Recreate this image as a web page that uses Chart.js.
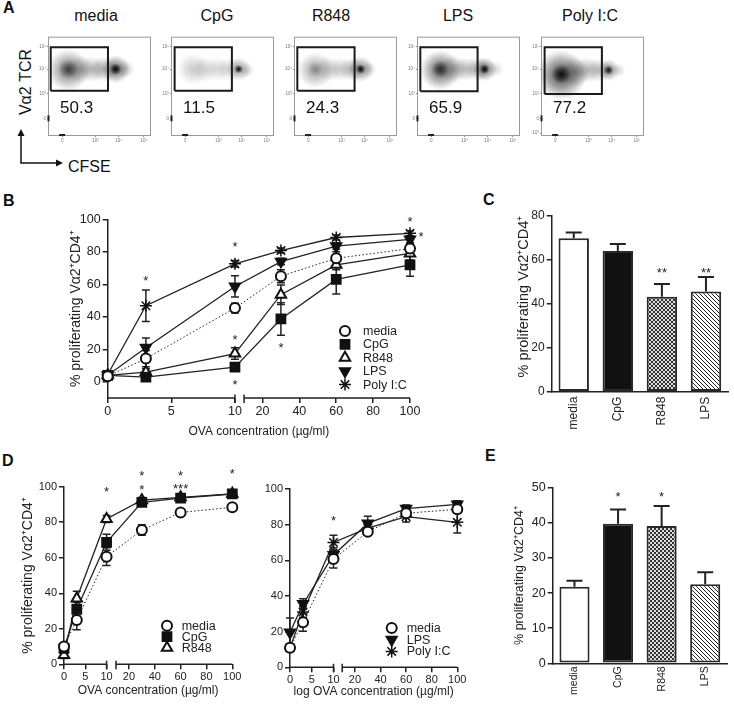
<!DOCTYPE html>
<html>
<head>
<meta charset="utf-8">
<script src="https://cdn.jsdelivr.net/npm/chart.js@4.4.1/dist/chart.umd.min.js"></script>
<style>
  body { margin: 0; background: #fff; }
  #fig { position: relative; width: 734px; height: 706px; overflow: hidden;
         font-family: Arial, "Liberation Sans", sans-serif; color: #111; }
  #fig canvas { position: absolute; }
  .lab { position: absolute; font-weight: bold; font-size: 16px; line-height: 1; }
  .ttl { position: absolute; font-size: 16px; line-height: 1; white-space: nowrap; transform: translateX(-50%); }
</style>
</head>
<body>
<div id="fig">
  <div class="lab" style="left:3px;top:0px">A</div>
  <div class="lab" style="left:3px;top:193px">B</div>
  <div class="lab" style="left:483px;top:192px">C</div>
  <div class="lab" style="left:2px;top:453px">D</div>
  <div class="lab" style="left:485px;top:448px">E</div>

  <div class="ttl" style="left:96px;top:8px">media</div>
  <div class="ttl" style="left:217px;top:8px">CpG</div>
  <div class="ttl" style="left:331px;top:8px">R848</div>
  <div class="ttl" style="left:458px;top:8px">LPS</div>
  <div class="ttl" style="left:590px;top:8px">Poly I:C</div>

  <div class="ttl" style="left:25.5px;top:74px;transform:translateX(-50%) rotate(-90deg)">V&alpha;2 TCR</div>
  <div class="ttl" style="left:68px;top:159px;transform:none">CFSE</div>
  <svg style="position:absolute;left:0;top:120px" width="70" height="50">
    <line x1="21" y1="43" x2="21" y2="15" stroke="#111" stroke-width="1.5"/>
    <polygon points="21,9 17.5,16 24.5,16" fill="#111"/>
    <line x1="20.25" y1="43" x2="57" y2="43" stroke="#111" stroke-width="1.5"/>
    <polygon points="63,43 56,39.5 56,46.5" fill="#111"/>
  </svg>

  <canvas id="flow0" width="119" height="114" style="left:33.3px;top:33px"></canvas>
  <canvas id="flow1" width="119" height="114" style="left:155.7px;top:33px"></canvas>
  <canvas id="flow2" width="119" height="114" style="left:279px;top:33px"></canvas>
  <canvas id="flow3" width="119" height="114" style="left:401.7px;top:33px"></canvas>
  <canvas id="flow4" width="119" height="114" style="left:525.7px;top:33px"></canvas>

  <canvas id="chartB" width="362" height="234" style="left:68px;top:205px"></canvas>
  <canvas id="chartC" width="219" height="227" style="left:515px;top:205px"></canvas>
  <canvas id="chartD1" width="225" height="243" style="left:20px;top:455px"></canvas>
  <canvas id="chartD2" width="215" height="244" style="left:255px;top:455px"></canvas>
  <canvas id="chartE" width="222" height="230" style="left:512px;top:470px"></canvas>
</div>

<script>
const FONT = 'Arial, "Liberation Sans", sans-serif';
Chart.defaults.font.family = FONT;
Chart.defaults.color = '#222';
Chart.defaults.animation = false;
Chart.defaults.layout.autoPadding = false;
Chart.defaults.plugins.legend.display = false;
Chart.defaults.plugins.tooltip.enabled = false;

// ---- data ----
const flowSamples = ['media', 'CpG', 'R848', 'LPS', 'Poly I:C'];
const flowPercent = [50.3, 11.5, 24.3, 65.9, 77.2];
const flowGateX = [[1.7, 58.4], [2.6, 59.3], [2.3, 59], [2.3, 59], [2.6, 59.3]];
const flowGateY = [[45, 89.3], [45, 89.3], [45, 89.3], [44.5, 89.3], [41.7, 89.3]];
const flowXTicks = [13, 46, 69, 94];
const flowYTicks = [17, 42, 67, 90];
const flowTickLabels = ['0', '10\u00b3', '10\u2074', '10\u2075'];
// density blobs: [x, y, radius px, darkness]
const flowBlobs = [
  [[19, 66, 21, 0.5], [19, 67, 10, 0.5], [31, 67, 14, 0.28], [43, 67, 13, 0.26], [54, 67, 13, 0.28], [66, 67, 14, 0.6], [66, 67, 6, 0.95], [76, 67, 9, 0.2]],
  [[21, 67, 16, 0.2], [33, 67, 13, 0.15], [45, 67, 12, 0.15], [56, 67, 12, 0.15], [66, 67, 12, 0.35], [66, 67, 4.5, 0.95], [74, 66, 8, 0.15]],
  [[20, 66, 18, 0.35], [20, 67, 8, 0.2], [33, 67, 13, 0.2], [45, 67, 12, 0.2], [56, 67, 12, 0.25], [65, 67, 13, 0.45], [65, 67, 5, 0.95], [73, 67, 8, 0.15]],
  [[22, 66, 20, 0.6], [22, 67, 9, 0.6], [35, 67, 14, 0.3], [47, 67, 12, 0.25], [58, 67, 12, 0.25], [66, 67, 12, 0.55], [66, 67, 5, 0.95], [77, 67, 8, 0.15]],
  [[19, 61, 25, 0.7], [19, 62, 10, 0.8], [33, 64, 15, 0.35], [45, 66, 13, 0.25], [56, 66, 12, 0.25], [66, 66, 11, 0.45], [66, 66, 5, 0.85], [76, 66, 7, 0.15]]
];

const doses = [0, 3, 10, 30, 60, 100];
const doseTicks = [0, 5, 10, 20, 40, 60, 80, 100];

const bMedia = [3.5, 14.3, 45.4, 65, 76, 82];
const bMediaErr = [1.5, 5, 3, 4, 4, 3];
const bCpG = [4, 2.9, 9, 38.7, 63, 72];
const bCpGErr = [1, 1, 1.5, 10, 9, 7];
const bR848 = [4, 6, 17.4, 53.6, 72, 79];
const bR848Err = [1, 2, 3.5, 6, 3, 4];
const bLPS = [4, 21, 58.7, 74, 83.5, 87.6];
const bLPSErr = [1, 6, 6.5, 2, 2, 2];
const bPoly = [4.5, 46.8, 72.6, 80.8, 88.8, 91.4];
const bPolyErr = [1, 9.7, 2, 1.5, 1.5, 1.5];
const bStars = [[3, 64.4, '*'], [10, 84.9, '*'], [10, 27.6, '*'], [10, 0.4, '*'], [30, 22.9, '*'], [100, 100.6, '*'], [106, 91.4, '*']];

const dMedia = [10, 25, 60.6, 75.6, 85.5, 88.4];
const dMediaErr = [2, 5.5, 5, 3, 1.5, 1.5];
const dCpG = [9, 31, 68.7, 91.2, 93.6, 95.9];
const dCpGErr = [3, 4, 4.5, 2, 1.5, 1.5];
const dR848 = [5.3, 37.1, 81.8, 92.4, 94, 96];
const dR848Err = [2, 4, 2, 1.5, 1.5, 1.5];
const dStars = [[10, 99, '*'], [30, 107.9, '*'], [30, 100, '*'], [60, 107.9, '*'], [60, 100.9, '***'], [100, 109, '*']];

const drMedia = [11, 25.2, 60.7, 76, 86.4, 88.6];
const drMediaErr = [2, 5, 5, 2, 2, 2];
const drLPS = [19.6, 35.5, 63, 80.7, 89, 91.4];
const drLPSErr = [8, 3, 4, 4, 2, 2];
const drPoly = [11, 31, 70, 78, 84.5, 81.3];
const drPolyErr = [2, 3, 4, 3, 3, 6];
const drStars = [[10, 84, '*']];

const barCats = ['media', 'CpG', 'R848', 'LPS'];
const cMeans = [69.7, 63.9, 43.2, 45.5];
const cErr = [2.7, 3.2, 5.7, 6.6];
const cStars = [[2, 55.3, '**'], [3, 55.3, '**']];
const eMeans = [21.8, 39.7, 39.1, 22.5];
const eErr = [1.7, 4.1, 5.7, 3.4];
const eStars = [[1, 48.2, '*'], [2, 48.2, '*']];

const yTitle = '% proliferating V\u03b12\u207aCD4\u207a';

// ---- broken x axis (Prism style 0-10 | 10-100) ----
class BrokenScale extends Chart.LinearScale {
  static id = 'broken';
  static defaults = Chart.LinearScale.defaults;
  buildTicks() {
    return this.options.tickValues.map(v => ({ value: v }));
  }
  toDecimal(v) {
    const o = this.options;
    if (v <= o.breakAt) return (v - this.min) / (o.breakAt - this.min) * o.leftFrac;
    const start = o.leftFrac + o.gapFrac;
    return start + (v - o.breakAt) / (this.max - o.breakAt) * (1 - start);
  }
  getPixelForValue(v) {
    return this.getPixelForDecimal(this.toDecimal(v));
  }
  getValueForPixel(p) {
    const o = this.options;
    const d = this.getDecimalForPixel(p);
    if (d <= o.leftFrac) return this.min + d / o.leftFrac * (o.breakAt - this.min);
    const start = o.leftFrac + o.gapFrac;
    return o.breakAt + (d - start) / (1 - start) * (this.max - o.breakAt);
  }
}
Chart.register(BrokenScale);

const brokenAxis = {
  id: 'brokenAxis',
  afterDraw(chart) {
    const s = chart.scales.x;
    if (!(s instanceof BrokenScale)) return;
    const o = s.options, ctx = chart.ctx, y = s.top;
    const p0 = s.getPixelForValue(s.min) - 0.75;
    const p1 = s.getPixelForValue(o.breakAt);
    const p2 = s.getPixelForDecimal(o.leftFrac + o.gapFrac);
    const p3 = s.getPixelForValue(s.max);
    ctx.save();
    ctx.strokeStyle = '#222';
    ctx.lineWidth = 1.5;
    ctx.beginPath();
    ctx.moveTo(p0, y); ctx.lineTo(p1, y);
    ctx.moveTo(p2, y); ctx.lineTo(p3, y);
    ctx.moveTo(p1, y - 3.5); ctx.lineTo(p1, y + 5);
    ctx.moveTo(p2, y - 3.5); ctx.lineTo(p2, y + 5);
    ctx.stroke();
    ctx.restore();
  }
};

function drawErrors(chart, upOnly) {
  const ctx = chart.ctx, ys = chart.scales.y;
  chart.data.datasets.forEach((ds, i) => {
    const errs = upOnly ? ds.errorsUp : ds.errors;
    if (!errs) return;
    const meta = chart.getDatasetMeta(i);
    const cap = upOnly ? 8 : 4;
    ctx.save();
    ctx.strokeStyle = '#222';
    ctx.lineWidth = upOnly ? 2 : 1.5;
    ctx.beginPath();
    meta.data.forEach((el, j) => {
      const v = upOnly ? ds.data[j] : ds.data[j].y;
      const top = ys.getPixelForValue(v + errs[j]);
      const bot = upOnly ? el.y : ys.getPixelForValue(v - errs[j]);
      ctx.moveTo(el.x, top); ctx.lineTo(el.x, bot);
      ctx.moveTo(el.x - cap, top); ctx.lineTo(el.x + cap, top);
      if (!upOnly) { ctx.moveTo(el.x - cap, bot); ctx.lineTo(el.x + cap, bot); }
    });
    ctx.stroke();
    ctx.restore();
  });
}

const errorBars = {
  id: 'errorBars',
  beforeDatasetsDraw(chart) { drawErrors(chart, false); },
  afterDatasetsDraw(chart) { drawErrors(chart, true); }
};

const sigMarks = {
  id: 'sigMarks',
  afterDatasetsDraw(chart, args, opts) {
    if (!opts.marks) return;
    const ctx = chart.ctx, xs = chart.scales.x, ys = chart.scales.y;
    ctx.save();
    ctx.font = opts.size + 'px ' + FONT;
    ctx.textAlign = 'center';
    ctx.textBaseline = 'alphabetic';
    ctx.fillStyle = '#222';
    opts.marks.forEach(m => {
      ctx.fillText(m[2], xs.getPixelForValue(m[0]), ys.getPixelForValue(m[1]) + opts.size * 0.57);
    });
    ctx.restore();
  }
};

function drawMarker(ctx, style, x, y, r, rot) {
  ctx.beginPath();
  if (style === 'circle') {
    ctx.arc(x, y, r, 0, Math.PI * 2);
  } else if (style === 'rect') {
    const h = r * Math.SQRT1_2;
    ctx.rect(x - h, y - h, 2 * h, 2 * h);
  } else if (style === 'triangle') {
    const s = rot ? -1 : 1;
    ctx.moveTo(x, y - s * r);
    ctx.lineTo(x + Math.sin(Math.PI * 2 / 3) * r, y + s * r / 2);
    ctx.lineTo(x - Math.sin(Math.PI * 2 / 3) * r, y + s * r / 2);
    ctx.closePath();
  } else {
    for (let k = 0; k < 4; k++) {
      const a = k * Math.PI / 4;
      ctx.moveTo(x - Math.cos(a) * r, y - Math.sin(a) * r);
      ctx.lineTo(x + Math.cos(a) * r, y + Math.sin(a) * r);
    }
  }
  if (style !== 'star') ctx.fill();
  ctx.stroke();
}

const insideLegend = {
  id: 'insideLegend',
  afterDatasetsDraw(chart, args, opts) {
    if (opts.x === undefined) return;
    const ctx = chart.ctx, area = chart.chartArea;
    ctx.save();
    ctx.font = opts.size + 'px ' + FONT;
    ctx.textBaseline = 'middle';
    chart.data.datasets.forEach((ds, i) => {
      const x = area.left + opts.x, y = area.top + opts.y + i * opts.row;
      ctx.fillStyle = ds.pointBackgroundColor;
      ctx.strokeStyle = ds.pointBorderColor;
      ctx.lineWidth = ds.pointBorderWidth;
      drawMarker(ctx, ds.pointStyle, x, y, ds.pointRadius, ds.pointRotation);
      ctx.fillStyle = '#222';
      ctx.fillText(ds.label, x + opts.gap, y + 0.5);
    });
    ctx.restore();
  }
};

const markers = {
  'media':    { style: 'circle',   r: 5,   fill: '#fff', dash: [1.5, 2.2], width: 1 },
  'CpG':      { style: 'rect',     r: 6.2, fill: '#111', dash: [], width: 1.3 },
  'R848':     { style: 'triangle', r: 6,   fill: '#fff', dash: [], width: 1.3 },
  'LPS':      { style: 'triangle', r: 5.8, fill: '#111', dash: [], width: 1.3, rot: 180 },
  'Poly I:C': { style: 'star',     r: 6,   fill: '#111', dash: [], width: 1.3 }
};

function lineSet(label, ys, errs) {
  const m = markers[label];
  return {
    label: label,
    data: doses.map((x, i) => ({ x: x, y: ys[i] })),
    errors: errs,
    borderColor: '#222',
    borderWidth: m.width,
    borderDash: m.dash,
    pointStyle: m.style,
    pointRadius: m.r,
    pointRotation: m.rot || 0,
    pointBackgroundColor: m.fill,
    pointBorderColor: '#111',
    pointBorderWidth: m.style === 'star' ? 1.5 : 2,
    tension: 0,
    clip: false
  };
}

function fixedTicks(values) {
  return s => { s.ticks = values.map(v => ({ value: v })); };
}

function doseChart(id, sets, o) {
  return new Chart(document.getElementById(id), {
    type: 'line',
    data: { datasets: sets },
    options: {
      responsive: false,
      layout: { padding: { top: o.padTop, right: o.padRight, left: 0, bottom: 0 } },
      scales: {
        x: {
          type: 'broken', min: 0, max: 100, breakAt: 10,
          leftFrac: o.leftFrac, gapFrac: o.gapFrac, tickValues: doseTicks,
          grid: { drawOnChartArea: false, tickLength: 5, color: '#222', lineWidth: 1.5 },
          border: { display: false },
          ticks: { autoSkip: false, maxRotation: 0, padding: 1, font: { size: o.tickSize }, callback: v => String(v) },
          title: { display: true, text: o.xTitle, padding: 0, font: { size: o.xTitleSize } },
          afterFit: s => { s.height = o.xHeight; }
        },
        y: {
          min: o.yMin, max: 100,
          afterBuildTicks: fixedTicks([0, 20, 40, 60, 80, 100]),
          grid: { drawOnChartArea: false, tickLength: 5, color: '#222', lineWidth: 1.5 },
          border: { color: '#222', width: 1.5 },
          ticks: { padding: 2, font: { size: o.tickSize } },
          title: { display: !!o.yTitle, text: o.yTitle, padding: 0, font: { size: o.yTitleSize } },
          afterFit: s => { s.width = o.yWidth; }
        }
      },
      plugins: {
        sigMarks: { marks: o.stars, size: 13 },
        insideLegend: o.legend
      }
    },
    plugins: [errorBars, sigMarks, insideLegend, brokenAxis]
  });
}

// ---- panel A: flow plots ----
const flowFrame = {
  id: 'flowFrame',
  beforeDatasetsDraw(chart) {
    const a = chart.chartArea, ctx = chart.ctx;
    ctx.save();
    ctx.strokeStyle = '#9a9a9a';
    ctx.lineWidth = 1;
    ctx.strokeRect(a.left - 0.5, a.top + 0.5, a.right - a.left + 1, a.bottom - a.top);
    // events piled on the axes
    ctx.fillStyle = '#222';
    const xs = chart.scales.x, ys = chart.scales.y;
    ctx.fillRect(a.left - 1.5, ys.getPixelForValue(20), 2, 6);
    ctx.fillRect(xs.getPixelForValue(10), a.bottom - 1, 6, 2);
    ctx.restore();
  },
  afterDatasetsDraw(chart, args, opts) {
    const ctx = chart.ctx, xs = chart.scales.x, ys = chart.scales.y;
    ctx.save();
    ctx.font = '17px ' + FONT;
    ctx.fillStyle = '#111';
    ctx.textBaseline = 'middle';
    ctx.fillText(opts.text, xs.getPixelForValue(11), ys.getPixelForValue(27));
    ctx.restore();
  }
};

function blobColor(c) {
  const raw = c.raw;
  const xs = c.chart.scales.x, ys = c.chart.scales.y;
  if (!raw || !xs || !ys) return 'rgba(0,0,0,0.2)';
  const px = xs.getPixelForValue(raw.x);
  const py = ys.getPixelForValue(raw.y);
  if (!isFinite(px) || !isFinite(py) || !(raw.r > 0)) return 'rgba(0,0,0,0.2)';
  const g = c.chart.ctx.createRadialGradient(px, py, 0, px, py, raw.r);
  g.addColorStop(0, 'rgba(0,0,0,' + raw.a + ')');
  g.addColorStop(0.5, 'rgba(0,0,0,' + (raw.a * 0.55) + ')');
  g.addColorStop(0.8, 'rgba(0,0,0,' + (raw.a * 0.2) + ')');
  g.addColorStop(1, 'rgba(0,0,0,0)');
  return g;
}

flowSamples.forEach((name, i) => {
  const gx = flowGateX[i], gy = flowGateY[i];
  const yTicks = name === 'Poly I:C' ? [2].concat(flowYTicks) : flowYTicks;
  const yLabels = name === 'Poly I:C' ? ['-10\u00b3'].concat(flowTickLabels) : flowTickLabels;
  new Chart(document.getElementById('flow' + i), {
    type: 'bubble',
    data: {
      datasets: [
        {
          type: 'scatter', showLine: true, clip: false,
          data: [{ x: gx[0], y: gy[0] }, { x: gx[1], y: gy[0] }, { x: gx[1], y: gy[1] }, { x: gx[0], y: gy[1] }, { x: gx[0], y: gy[0] }],
          borderColor: '#1a1a1a', borderWidth: 2, pointRadius: 0
        },
        {
          data: flowBlobs[i].map(b => ({ x: b[0], y: b[1], r: b[2], a: b[3] })),
          backgroundColor: blobColor, borderWidth: 0
        }
      ]
    },
    options: {
      responsive: false,
      layout: { padding: { top: 2, right: 2, left: 0, bottom: 0 } },
      scales: {
        x: {
          type: 'linear', min: 0, max: 100,
          afterBuildTicks: fixedTicks(flowXTicks),
          ticks: { autoSkip: false, maxRotation: 0, padding: 1, color: '#777', font: { size: 4.5 }, callback: (v, k) => flowTickLabels[k] },
          grid: { drawOnChartArea: false, tickLength: 2, color: '#888' },
          border: { display: false },
          afterFit: s => { s.height = 12; }
        },
        y: {
          type: 'linear', min: 0, max: 100,
          afterBuildTicks: fixedTicks(yTicks),
          ticks: { autoSkip: false, padding: 1, color: '#777', font: { size: 4.5 }, callback: (v, k) => yLabels[k] },
          grid: { drawOnChartArea: false, tickLength: 2, color: '#888' },
          border: { display: false },
          afterFit: s => { s.width = 16; }
        }
      },
      plugins: { flowFrame: { text: flowPercent[i].toFixed(1) } }
    },
    plugins: [flowFrame]
  });
});

// ---- panel B ----
doseChart('chartB', [
  lineSet('media', bMedia, bMediaErr),
  lineSet('CpG', bCpG, bCpGErr),
  lineSet('R848', bR848, bR848Err),
  lineSet('LPS', bLPS, bLPSErr),
  lineSet('Poly I:C', bPoly, bPolyErr)
], {
  padTop: 14.3, padRight: 20, leftFrac: 0.421, gapFrac: 0.03, yMin: -10,
  tickSize: 12.5, xTitle: 'OVA concentration (\u00b5g/ml)', xTitleSize: 12, xHeight: 40.9,
  yTitle: yTitle, yTitleSize: 14, yWidth: 39.7, stars: bStars,
  legend: { x: 237.3, y: 111.7, row: 13.4, gap: 18, size: 12.5 }
});

// ---- panel D ----
doseChart('chartD1', [
  lineSet('media', dMedia, dMediaErr),
  lineSet('CpG', dCpG, dCpGErr),
  lineSet('R848', dR848, dR848Err)
], {
  padTop: 31.7, padRight: 12.7, leftFrac: 0.253, gapFrac: 0.056, yMin: 0,
  tickSize: 11, xTitle: 'OVA concentration (\u00b5g/ml)', xTitleSize: 12, xHeight: 33.7,
  yTitle: yTitle, yTitleSize: 14, yWidth: 44, stars: dStars,
  legend: { x: 103, y: 139, row: 11, gap: 14.7, size: 12.5 }
});

doseChart('chartD2', [
  lineSet('media', drMedia, drMediaErr),
  lineSet('LPS', drLPS, drLPSErr),
  lineSet('Poly I:C', drPoly, drPolyErr)
], {
  padTop: 34, padRight: 12.7, leftFrac: 0.26, gapFrac: 0.052, yMin: 0,
  tickSize: 11, xTitle: 'log OVA concentration (\u00b5g/ml)', xTitleSize: 12, xHeight: 31.7,
  yTitle: '', yTitleSize: 14, yWidth: 35, stars: drStars,
  legend: { x: 101.7, y: 139, row: 11.7, gap: 15, size: 12.5 }
});

// ---- panels C and E: bars ----
function checkerFill() {
  const c = document.createElement('canvas');
  c.width = c.height = 4;
  const g = c.getContext('2d');
  g.fillStyle = '#dcdcdc'; g.fillRect(0, 0, 4, 4);
  g.fillStyle = '#333'; g.fillRect(0, 0, 2, 2); g.fillRect(2, 2, 2, 2);
  return g.createPattern(c, 'repeat');
}
function hatchFill() {
  const c = document.createElement('canvas');
  c.width = c.height = 4;
  const g = c.getContext('2d');
  g.fillStyle = '#fff'; g.fillRect(0, 0, 4, 4);
  g.strokeStyle = '#222'; g.lineWidth = 1;
  g.beginPath();
  g.moveTo(-1, -1); g.lineTo(5, 5);
  g.moveTo(-1, 3); g.lineTo(1, 5);
  g.moveTo(3, -1); g.lineTo(5, 1);
  g.stroke();
  return g.createPattern(c, 'repeat');
}

function barChart(id, means, errs, o) {
  return new Chart(document.getElementById(id), {
    type: 'bar',
    data: {
      labels: barCats,
      datasets: [{
        data: means, errorsUp: errs,
        backgroundColor: ['#fff', '#111', checkerFill(), hatchFill()],
        borderColor: '#2a2a2a', borderWidth: 2, borderSkipped: false,
        barPercentage: 0.69, categoryPercentage: 1
      }]
    },
    options: {
      responsive: false,
      layout: { padding: { top: o.padTop, right: o.padRight, left: 0, bottom: 0 } },
      scales: {
        x: {
          grid: { display: false, drawTicks: false },
          border: { color: '#222', width: 1.5 },
          ticks: { minRotation: 90, maxRotation: 90, padding: o.labelPad, font: { size: o.labelSize } },
          afterFit: s => { s.height = o.xHeight; }
        },
        y: {
          min: 0, max: o.yMax,
          ticks: { stepSize: o.step, padding: 2, font: { size: o.tickSize } },
          grid: { drawOnChartArea: false, tickLength: 5, color: '#222', lineWidth: 1.5 },
          border: { color: '#222', width: 1.5 },
          title: { display: true, text: yTitle, padding: 0, align: o.titleAlign, font: { size: o.yTitleSize } },
          afterFit: s => { s.width = o.yWidth; }
        }
      },
      plugins: { sigMarks: { marks: o.stars, size: 13 } }
    },
    plugins: [errorBars, sigMarks]
  });
}

barChart('chartC', cMeans, cErr, {
  padTop: 10.7, padRight: 6, yMax: 80, step: 20, xHeight: 40.3, yWidth: 36.7,
  labelSize: 12, labelPad: 5, tickSize: 12, yTitleSize: 14.5, titleAlign: 'end', stars: cStars
});
barChart('chartE', eMeans, eErr, {
  padTop: 17.7, padRight: 7, yMax: 50, step: 10, xHeight: 36.7, yWidth: 40.7,
  labelSize: 10.5, labelPad: 3, tickSize: 12.5, yTitleSize: 12.5, titleAlign: 'center', stars: eStars
});
</script>
</body>
</html>
